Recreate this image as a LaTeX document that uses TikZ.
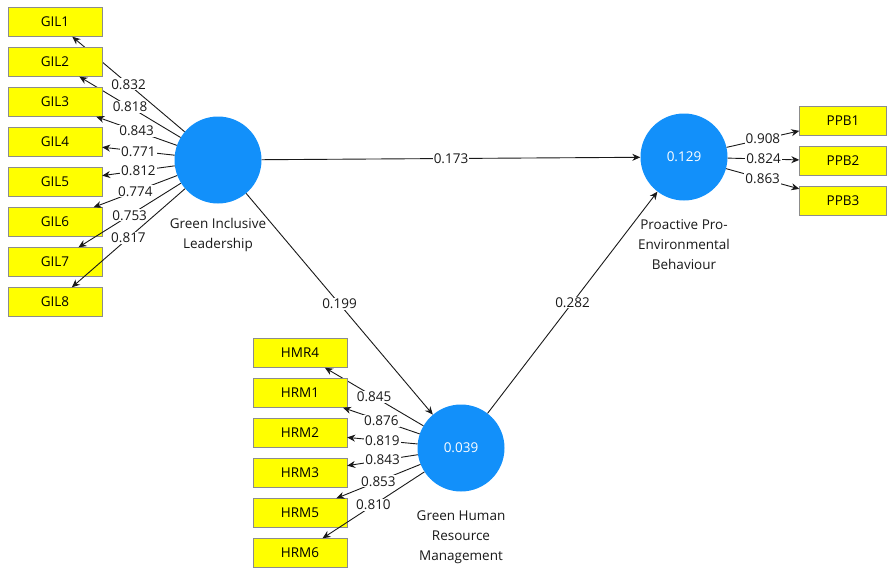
\documentclass[tikz,border=0pt]{standalone}
\usepackage{fontspec}
\setmainfont{Open Sans}
\usetikzlibrary{arrows.meta}
\definecolor{latentblue}{RGB}{18,144,250}
\definecolor{itemyellow}{RGB}{255,255,0}

\begin{document}
\begin{tikzpicture}[x=1pt, y=-1pt, font=\fontsize{13.5}{20}\selectfont,
    item/.style={draw=black!45, fill=itemyellow, minimum width=94pt, minimum height=29pt, inner sep=0pt},
    latent/.style={circle, fill=latentblue, minimum size=87pt, inner sep=0pt, text=white},
    lvname/.style={align=center, text=black!90},
    load/.style={-{Stealth[length=8pt,width=7pt]}, black!90, line width=0.9pt},
    coef/.style={fill=white, inner sep=1pt, text=black!90}]
      \useasboundingbox (0,0) rectangle (888,570);
      %
      \node[latent] (gil) at (218,160) {};
      \node[latent] (hrm) at (461,448) {0.039};
      \node[latent] (ppb) at (684,157) {0.129};
      \node[lvname] (gilname) at (218,235) {Green Inclusive\\Leadership};
      \node[lvname] (hrmname) at (461,537) {Green Human\\Resource\\Management};
      \node[lvname] (ppbname) at (684,245) {Proactive Pro-\\Environmental\\Behaviour};
      %
      \foreach \i/\val in {1/0.832, 2/0.818, 3/0.843, 4/0.771, 5/0.812, 6/0.774, 7/0.753, 8/0.817} {
        \node[item] (gil\i) at (55,40*\i-18) {GIL\i};
        \draw[load] (gil) -- node[coef] {\val} (gil\i);
      }
      \foreach \lbl/\val [count=\k] in {HMR4/0.845, HRM1/0.876, HRM2/0.819, HRM3/0.843, HRM5/0.853, HRM6/0.810} {
        \node[item] (hrm\k) at (300,313+40*\k) {\lbl};
        \draw[load] (hrm) -- node[coef] {\val} (hrm\k);
      }
      \foreach \val [count=\k] in {0.908, 0.824, 0.863} {
        \node[item, minimum width=87pt] (ppb\k) at (843,81+40*\k) {PPB\k};
        \draw[load] (ppb) -- node[coef] {\val} (ppb\k);
      }
      %
      \draw[load] (gil) -- node[coef] {0.173} (ppb);
      \draw[load] (gil) -- node[coef] {0.199} (hrm);
      \draw[load] (hrm) -- node[coef] {0.282} (ppb);
\end{tikzpicture}
\end{document}
